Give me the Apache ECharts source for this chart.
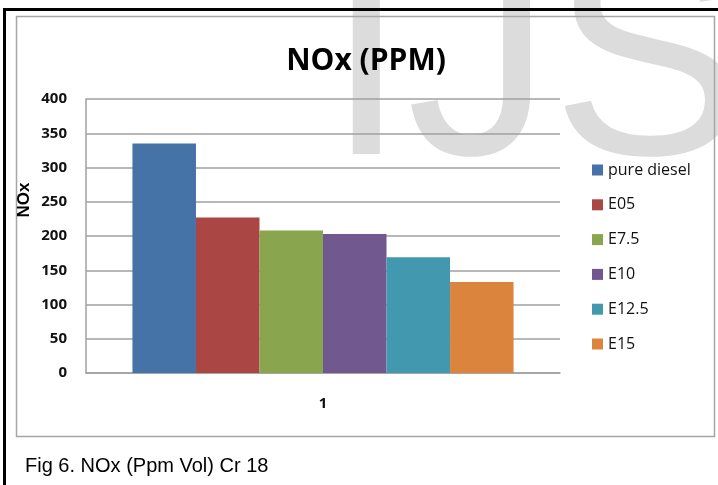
<!DOCTYPE html>
<html>
<head>
<meta charset="utf-8">
<script src="https://cdn.jsdelivr.net/npm/echarts@6/dist/echarts.min.js"></script>
<style>
html,body{margin:0;padding:0;background:#fff;}
#chart{width:718px;height:485px;}
</style>
</head>
<body>
<div id="chart"></div>
<script>
const categories = ['1'];
const seriesNames = ['pure diesel', 'E05', 'E7.5', 'E10', 'E12.5', 'E15'];
const seriesValues = [335, 227, 208, 203, 169, 133];
const seriesColors = ['#4572A7', '#AA4643', '#89A54E', '#71588F', '#4198AF', '#DB843D'];
const yTicks = { min: 0, max: 400, interval: 50 };
const titleText = 'NOx (PPM)';
const yAxisTitle = 'NOx';
const captionText = 'Fig 6. NOx (Ppm Vol) Cr 18';

const chart = echarts.init(document.getElementById('chart'), null, { renderer: 'canvas' });

const series = seriesNames.map((name, i) => ({
  name: name,
  type: 'bar',
  data: [seriesValues[i]],
  itemStyle: { color: seriesColors[i] },
  barGap: '0%',
  barCategoryGap: '19.6%'
}));

chart.setOption({
  backgroundColor: '#ffffff',
  animation: false,
  title: {
    text: titleText,
    left: 361,
    top: 56,
    textAlign: 'center',
    textVerticalAlign: 'middle',
    textStyle: { fontFamily: 'Open Sans', fontWeight: 'bold', fontSize: 30, color: '#000' }
  },
  grid: { left: 86, top: 99, right: 158, bottom: 112, containLabel: false },
  legend: {
    orient: 'vertical',
    left: 587,
    top: 157,
    itemWidth: 11,
    itemHeight: 11,
    itemGap: 18.8,
    icon: 'rect',
    textStyle: { fontFamily: 'Open Sans', fontSize: 16, lineHeight: 16, color: '#111' },
    data: seriesNames
  },
  xAxis: {
    type: 'category',
    data: categories,
    axisLine: { lineStyle: { color: '#a0a0a0', width: 1.5 } },
    axisTick: { show: false },
    axisLabel: { margin: 23, fontFamily: 'Open Sans', fontWeight: 'bold', fontSize: 15, color: '#111' }
  },
  yAxis: {
    type: 'value',
    min: yTicks.min,
    max: yTicks.max,
    interval: yTicks.interval,
    axisLine: { show: true, lineStyle: { color: '#a0a0a0', width: 1.5 } },
    axisTick: { show: false },
    splitLine: { lineStyle: { color: '#a0a0a0', width: 1.5 } },
    axisLabel: { margin: 19, fontFamily: 'Open Sans', fontWeight: 'bold', fontSize: 15, color: '#111' }
  },
  graphic: [
    {
      type: 'text', z: -10, silent: true,
      style: { x: 326, y: 219, text: 'IJS', font: '290px "Liberation Sans"', fill: '#dcdcdc', verticalAlign: 'bottom' }
    },
    {
      type: 'rect', z: 100, silent: true,
      shape: { x: 16.5, y: 16.5, width: 698, height: 420 },
      style: { fill: 'none', stroke: '#a6a6a6', lineWidth: 1.5 }
    },
    {
      type: 'rect', z: 100, silent: true,
      shape: { x: 4.5, y: 9.5, width: 800, height: 600 },
      style: { fill: 'none', stroke: '#000', lineWidth: 3 }
    },
    {
      type: 'text', z: 100, silent: true,
      x: 24, y: 200, rotation: Math.PI / 2,
      style: { x: 0, y: 0, text: yAxisTitle, font: 'bold 17px "Liberation Sans"', fill: '#000', align: 'center', verticalAlign: 'middle' }
    },
    {
      type: 'text', z: 100, silent: true,
      style: { x: 25, y: 466, text: captionText, font: '20px "Liberation Sans"', fill: '#000', verticalAlign: 'middle' }
    }
  ],
  series: series
});
</script>
</body>
</html>
